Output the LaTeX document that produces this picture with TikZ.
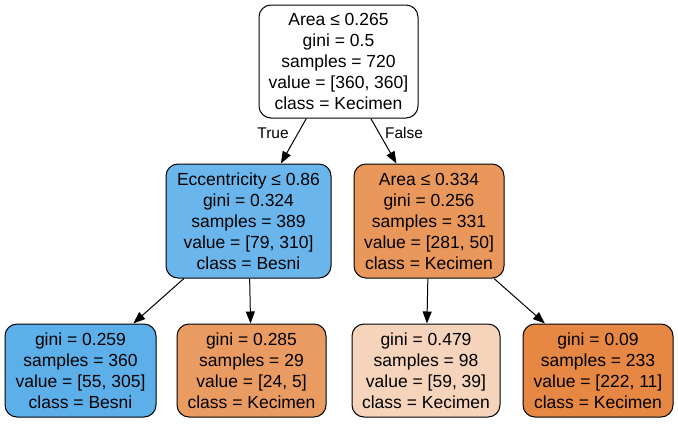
\documentclass[tikz,border=0pt]{standalone}
\usepackage{fontspec}
\setmainfont{Liberation Sans}
\usetikzlibrary{arrows.meta}
\definecolor{cEcc}{HTML}{6AB6EC}
\definecolor{cArea}{HTML}{EA975C}
\definecolor{cLa}{HTML}{5DAFEA}
\definecolor{cLb}{HTML}{EA9B62}
\definecolor{cLc}{HTML}{F6D4BC}
\definecolor{cLd}{HTML}{E68743}
\tikzset{
  tnode/.style={draw=black, line width=1pt, rounded corners=12pt, align=center,
    inner sep=0pt, font=\fontsize{17.5}{21}\selectfont},
  inner/.style={tnode, minimum height=114pt},
  leaf/.style={tnode, minimum height=93pt},
  edge/.style={line width=1pt, -{Triangle[length=12pt,width=9pt]}},
  elabel/.style={font=\fontsize{15.5}{18}\selectfont}
}
\begin{document}
\begin{tikzpicture}[x=1pt,y=-1pt]
\useasboundingbox (0,0) rectangle (678,424);
\node[inner, fill=white, minimum width=159pt, minimum height=113pt] (root) at (338.5,61.5)
  {Area ≤ 0.265\\gini = 0.5\\samples = 720\\value = [360, 360]\\class = Kecimen};
\node[inner, fill=cEcc, minimum width=165pt] (ecc) at (248.5,221)
  {Eccentricity ≤ 0.86\\gini = 0.324\\samples = 389\\value = [79, 310]\\class = Besni};
\node[inner, fill=cArea, minimum width=150pt] (area) at (429,221)
  {Area ≤ 0.334\\gini = 0.256\\samples = 331\\value = [281, 50]\\class = Kecimen};
\node[leaf, fill=cLa, minimum width=151pt] (l1) at (80.5,370.5)
  {gini = 0.259\\samples = 360\\value = [55, 305]\\class = Besni};
\node[leaf, fill=cLb, minimum width=149pt] (l2) at (251.5,370.5)
  {gini = 0.285\\samples = 29\\value = [24, 5]\\class = Kecimen};
\node[leaf, fill=cLc, minimum width=148pt] (l3) at (426,370.5)
  {gini = 0.479\\samples = 98\\value = [59, 39]\\class = Kecimen};
\node[leaf, fill=cLd, minimum width=150pt] (l4) at (598,370.5)
  {gini = 0.09\\samples = 233\\value = [222, 11]\\class = Kecimen};
\draw[edge] (root) -- (ecc);
\draw[edge] (root) -- (area);
\draw[edge] (ecc) -- (l1);
\draw[edge] (ecc) -- (l2);
\draw[edge] (area) -- (l3);
\draw[edge] (area) -- (l4);
\node[elabel] (tl) at (273,133) {True};
\node[elabel] (fl) at (404,133) {False};
\end{tikzpicture}
\end{document}
